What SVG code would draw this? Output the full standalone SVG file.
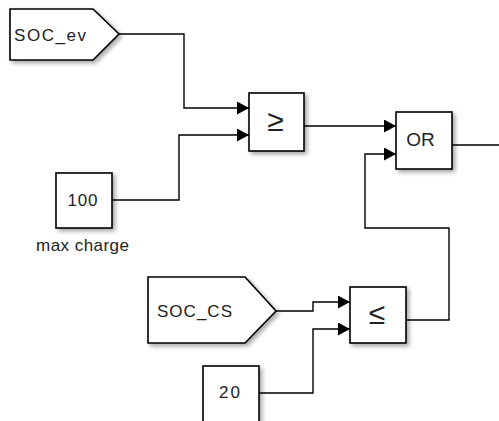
<svg xmlns="http://www.w3.org/2000/svg" width="499" height="421" viewBox="0 0 499 421">
<defs>
<filter id="sh" x="-20%" y="-20%" width="150%" height="150%">
<feDropShadow dx="2.5" dy="2.5" stdDeviation="2" flood-color="#000" flood-opacity="0.35"/>
</filter>
<marker id="arr" markerUnits="userSpaceOnUse" markerWidth="13" markerHeight="13" refX="12" refY="6.5" orient="auto">
<path d="M0,0 L12,6.5 L0,13 z" fill="#000"/>
</marker>
</defs>
<style>
.blk{fill:#fff;stroke:#000;stroke-width:1.6;filter:url(#sh)}
.w{fill:none;stroke:#000;stroke-width:1.4}
.a{marker-end:url(#arr)}
text{font-family:"Liberation Sans",Arial,sans-serif;fill:#222;font-size:17px}
.c{text-anchor:middle}
</style>
<rect width="499" height="421" fill="#fff"/>
<g id="connectors">
<path class="w a" d="M119,34 H184 V108 H249"/>
<path class="w a" d="M112,200 H179 V135 H249"/>
<path class="w a" d="M304,126 H396"/>
<path class="w" d="M452,145 H499"/>
<path class="w a" d="M276,311 H313 V302 H350"/>
<path class="w a" d="M259,393 H313 V329 H350"/>
<path class="w a" d="M406,320 H449 V228 H365 V154 H396"/>
</g>
<g id="soc_ev">
<polygon class="blk" points="10,9 93,9 119,34 93,60 10,60"/>
<text x="14" y="41" textLength="72" lengthAdjust="spacing">SOC_ev</text>
</g>
<g id="max_charge">
<rect class="blk" x="56" y="173" width="56" height="55"/>
<text class="c" x="82.5" y="205.5" textLength="30" lengthAdjust="spacing">100</text>
<text x="82.5" y="251" text-anchor="middle" textLength="93" lengthAdjust="spacing">max charge</text>
</g>
<g id="ge">
<rect class="blk" x="249" y="93" width="55" height="58"/>
<text x="275.5" y="131" style="font-size:30px" text-anchor="middle">≥</text>
</g>
<g id="or">
<rect class="blk" x="396" y="112" width="56" height="57"/>
<text x="420.5" y="146" style="font-size:19px" text-anchor="middle">OR</text>
</g>
<g id="soc_cs">
<polygon class="blk" points="148,277 245,277 276,311 245,343 148,343"/>
<text x="157" y="317" textLength="75" lengthAdjust="spacing">SOC_CS</text>
</g>
<g id="le">
<rect class="blk" x="350" y="287" width="56" height="56"/>
<text x="377" y="324" style="font-size:30px" text-anchor="middle">≤</text>
</g>
<g id="c20">
<rect class="blk" x="203" y="366" width="56" height="62"/>
<text class="c" x="229.5" y="397.5" textLength="21" lengthAdjust="spacing">20</text>
</g>
</svg>
